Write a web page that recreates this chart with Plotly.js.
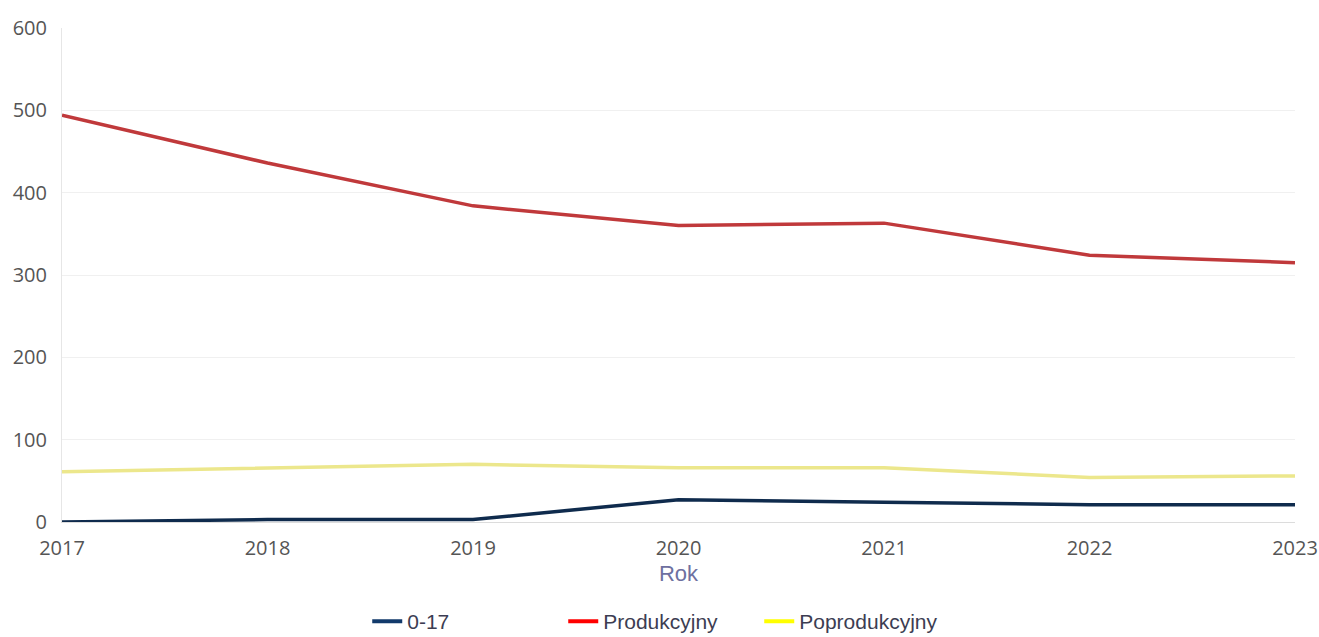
<!DOCTYPE html>
<html>
<head>
<meta charset="utf-8">
<script src="https://cdn.plot.ly/plotly-3.0.1.min.js"></script>
<style>html,body{margin:0;padding:0;background:#fff;}#chart{width:1319px;height:637px;}</style>
</head>
<body>
<div id="chart"></div>
<script>
const years = [2017, 2018, 2019, 2020, 2021, 2022, 2023];
const seriesNames = ['0-17', 'Produkcyjny', 'Poprodukcyjny'];
const young = [0, 3, 3, 27, 24, 21, 21];
const working = [494, 436, 384, 360, 363, 324, 315];
const retired = [61, 66, 70, 66, 66, 54, 56];
const lineColors = ['#0f2b4d', '#c0393b', '#ece78c'];
const legendColors = ['#123a6b', '#ff0000', '#ffff00'];
const yTicks = [0, 100, 200, 300, 400, 500, 600];

const data = [young, working, retired];
const traces = [];
data.forEach((vals, i) => {
  traces.push({
    x: years, y: vals, type: 'scatter', mode: 'lines',
    line: {color: lineColors[i], width: 3.5},
    showlegend: false, hoverinfo: 'x+y', name: seriesNames[i]
  });
});
seriesNames.forEach((n, i) => {
  traces.push({
    x: [null], y: [null], type: 'scatter', mode: 'lines',
    line: {color: legendColors[i], width: 4},
    name: n, showlegend: true
  });
});

const layout = {
  width: 1319, height: 637,
  margin: {l: 62, r: 24, t: 28, b: 115, autoexpand: false},
  paper_bgcolor: '#fff', plot_bgcolor: '#fff',
  showlegend: true,
  xaxis: {
    range: [2017, 2023], tickvals: years, ticktext: years.map(String),
    showgrid: false, zeroline: false,
    showline: true, linecolor: '#dcdcdc', linewidth: 1,
    tickfont: {family: 'Open Sans', size: 20, color: '#555'},
    ticks: '', ticklabelstandoff: 8,
    title: {text: 'Rok', font: {family: 'Liberation Sans, Arial', size: 22, color: '#6e70a0'}, standoff: 2}
  },
  yaxis: {
    range: [0, 600], tickvals: yTicks,
    showgrid: true, gridcolor: '#f0f0f0', zeroline: false,
    showline: true, linecolor: '#e6e6e6', linewidth: 1,
    tickfont: {family: 'Open Sans', size: 20, color: '#555'},
    ticks: '', ticklabelstandoff: 10
  },
  legend: {
    orientation: 'h', x: 0.486, xanchor: 'center', y: -0.16, yanchor: 'top',
    font: {family: 'Liberation Sans, Arial', size: 21, color: '#3c3d52'},
    entrywidth: 151, entrywidthmode: 'pixels', itemwidth: 30
  }
};
Plotly.newPlot('chart', traces, layout, {displayModeBar: false, staticPlot: true});
</script>
</body>
</html>
